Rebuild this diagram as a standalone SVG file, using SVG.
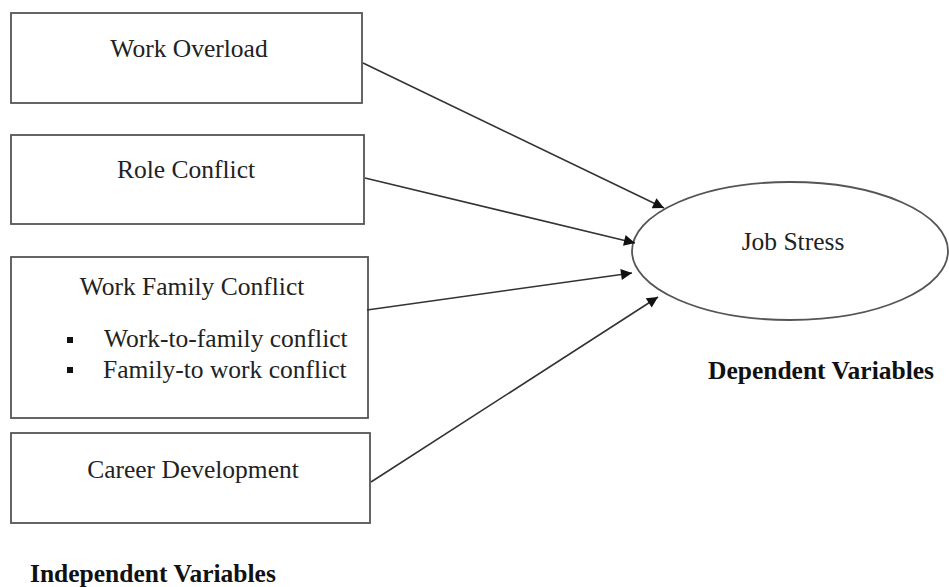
<svg xmlns="http://www.w3.org/2000/svg" width="949" height="587" viewBox="0 0 949 587">
<defs>
<style>
.box{fill:#fff;stroke:#555;stroke-width:1.8}
.t{font-family:"Liberation Serif","Times New Roman",serif;font-size:25.5px;fill:#222}
.b{font-family:"Liberation Serif","Times New Roman",serif;font-size:25.5px;font-weight:bold;fill:#111}
.c{stroke:#333;stroke-width:1.6;fill:none;marker-end:url(#ah)}
</style>
<marker id="ah" viewBox="0 0 10 10" refX="10" refY="5" markerWidth="12" markerHeight="11" markerUnits="userSpaceOnUse" orient="auto">
<path d="M0,0 L10,5 L0,10 z" fill="#111"/>
</marker>
</defs>
<rect width="949" height="587" fill="#fff"/>
<g id="work-overload">
<rect class="box" x="11" y="13" width="351" height="90"/>
<text class="t" x="189" y="57" text-anchor="middle">Work Overload</text>
</g>
<g id="role-conflict">
<rect class="box" x="11" y="135" width="353" height="89"/>
<text class="t" x="186" y="178" text-anchor="middle">Role Conflict</text>
</g>
<g id="work-family-conflict">
<rect class="box" x="11" y="257" width="357" height="161"/>
<text class="t" x="192" y="295" text-anchor="middle">Work Family Conflict</text>
<rect x="67" y="337" width="6" height="6" fill="#111"/>
<text class="t" x="104" y="347">Work-to-family conflict</text>
<rect x="67" y="367" width="6" height="6" fill="#111"/>
<text class="t" x="103" y="378">Family-to work conflict</text>
</g>
<g id="career-development">
<rect class="box" x="11" y="433" width="359" height="90"/>
<text class="t" x="193" y="478" text-anchor="middle">Career Development</text>
</g>
<g id="job-stress">
<ellipse class="box" cx="790" cy="251" rx="158" ry="69"/>
<text class="t" x="793" y="250" text-anchor="middle">Job Stress</text>
</g>
<g id="labels">
<text class="b" x="30" y="582">Independent Variables</text>
<text class="b" x="708" y="379">Dependent Variables</text>
</g>
<g id="connectors">
<line class="c" x1="363" y1="63" x2="664" y2="208"/>
<line class="c" x1="365" y1="178" x2="635" y2="243"/>
<line class="c" x1="367" y1="310" x2="632" y2="273"/>
<line class="c" x1="371" y1="482" x2="658" y2="297"/>
</g>
</svg>
